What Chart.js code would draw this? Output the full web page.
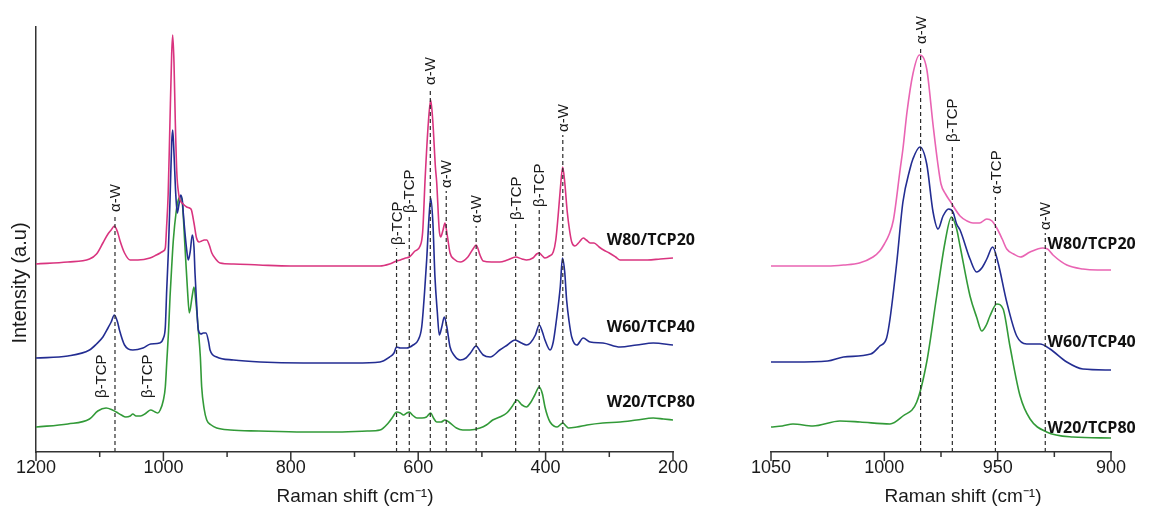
<!DOCTYPE html>
<html>
<head>
<meta charset="utf-8">
<title>Raman spectra W/TCP</title>
<script src="https://cdn.jsdelivr.net/npm/chart.js@4.4.1/dist/chart.umd.min.js"></script>
<style>
  html, body { margin: 0; padding: 0; background: #fff; }
  #wrap { position: relative; width: 1151px; height: 509px; }
  #wrap canvas { position: absolute; top: 0; }
  #chart-wide { left: 0; }
  #chart-zoom { left: 740px; }
</style>
</head>
<body>
<div id="wrap">
  <canvas id="chart-wide" width="730" height="509"></canvas>
  <canvas id="chart-zoom" width="411" height="509"></canvas>
</div>
<script>
// ---- full range spectra (1200 - 200 cm-1) ----
const wideShiftW80 = [1200,1150,1116,1105,1095,1087,1082,1077,1072,1068,1061,1052,1040,1021,1011,1005,1000,997,995,992.5,990,987,985.4,983.4,981.3,979,976,974,969,963.4,959,956,952,948,944,940,936,932,928,924,918,911,890,850,800,750,700,660,645,634,628,620,614,605,597,593,589,584,580.4,577,573,571,567,564.7,561,558,554,550,544,534,522,514,509,503,498,485,472,460,447,437,430,420,414,410,405,401,394,388,384,380.5,377,373.2,370,366,362,359,354,347,341,336,330,324,316,309,300,290,283,260,240,220,200];
const wideW80 = [188,190,193,198,209,218,222,226,220,211,199,192,192,194,197,199,201,204,225,258,322,398,417,390,330,280,258,252,248,245,244,242,229,214,210,211,212,212,207,199,193,189,188,187,186,186,186,186,188,191,192,194,195,201,206,220,275,330,352,330,285,270,222,215,222,229,215,199,193,190,195,203,207,197,191,190,190,192,195,193,192,194,198,199,196,194,196,200,212,235,262,285,270,240,220,210,206,210,214,212,209,209,205,202,199,195,192,192,192,193,194];

const wideShiftW60 = [1200,1150,1116,1105,1095,1087,1082,1077,1072,1069,1061,1048,1032,1020,1006,1000,997,994.8,992.3,989.6,987,985.4,983.4,980.7,978.2,975.5,972.8,970,968.8,963.4,960.9,958,954.6,952,950.4,948,945.2,941,937.4,933.1,929,926.8,916.3,890,848,780,700,660,645,638,634,628,618,608,600,594.5,590,586.7,583,580.4,577,573.7,570,566.9,563,559,555,550,544,534,525,518,509,503,498,487,472,460,448,438,430,424,416,410,405,401,393,388,383,377,373.5,370,367,363,359,351,341,330,310,283,257,231,200];
const wideW60 = [94,96,102,108,115,124,130,137,130,122,107,102,104,108,109,114,125,162,199,252,309,322,299,259,239,248,257,250,239,202,192,200,217,205,179,150,122,118,119,119,110,102,95,92,90,89,89,90,95,99,105,104,104,107,112,125,160,192,235,254,230,175,140,117,125,135,125,105,97,92,94,99,106,101,97,95,102,107,112,109,107,109,117,127,120,112,102,110,132,165,194,180,152,130,115,107,114,110,109,105,107,109,107];

const wideShiftW20 = [1200,1150,1116,1103,1090,1080,1074,1066,1059,1052,1048,1043,1036,1027,1020,1013,1009,1005,1000,997,994.8,992,989.6,987,984.4,980,976.6,972.8,970,966.1,962,959.3,955,952,949,945.2,942,939.9,936,932,925,916.3,895,850,780,734,680,660,647,640,634,628,623,618,614,609,602,594,587,580.4,576,571,564,558,550,540,530,519,503,493,483,472,461,452,445,437,430,424,417,410,405,401,397,393,387,382,373,368,364,351,335,310,283,257,231,215,200];
const wideW20 = [25,28,33,41,44,42,40,37,35,36,38,36,36,39,42,40,39,42,52,65,89,120,155,185,212,240,252,256,247,205,160,139,155,165,150,122,95,65,43,32,27,24,22,21,20,20,21,22,29,35,40,39,37,39,40,37,34,34,35,39,34,30,30,32,29,24,22,22,24,27,32,35,39,46,52,47,45,49,57,65,58,45,36,30,26,25,29,26,24,25,27,29,30,32,34,33,32];

// ---- close-up of the main band (1050 - 900 cm-1) ----
const zoomShiftW80 = [1050,1040,1025,1018,1011,1005,1002,1000,998,996,993,991.8,990,987.4,984.5,981.3,978.5,976.5,975,973,971,966.6,963.5,960.9,958,954.8,952.5,950.4,948,946,943,940,935.7,930.2,928,925.6,919.5,912.4,906,900];
const zoomW80 = [186,186,186,187,189,195,201,208,217,232,283,303,340,378,397,383,327,290,268,258,251,236,231,229,229,233,231,224,213,203,198,195,200,204,203,197,187,183,182,182];

const zoomShiftW60 = [1050,1040,1025,1018,1006,1002,999,997.5,994.5,991.8,988.7,987.4,984.3,981.3,978.5,976.3,974.1,971.7,969.7,968.1,966.6,962.2,959.3,957,954.8,952.2,949.9,946,941.6,937.2,931.3,926.9,919.5,912.4,900];
const zoomW60 = [90,90,91,95,98,106,114,133,190,250,283,293,305,288,240,223,236,243,240,228,222,193,180,184,193,205,190,150,116,108,108,103,90,83,82];

const zoomShiftW20 = [1050,1045,1040.3,1031.5,1019.6,1010.7,997.5,991.8,985.7,981.3,976.9,973.2,970.4,968.1,966.6,962.2,959.3,957,955,953.4,950.4,947.6,944.6,940.1,935.7,928.4,916.8,900];
const zoomW20 = [25,26,28,26,31,30,28,36,50,90,156,210,235,223,206,156,135,121,127,136,148,143,106,56,33,20,15,14];

// band assignments
const widePeakShift = [1076, 634, 614, 581, 556, 509, 447, 410, 373];
const widePeakName = ['α-W', 'β-TCP', 'β-TCP', 'α-W', 'α-W', 'α-W', 'β-TCP', 'β-TCP', 'α-W'];
const wideFreeShift = [1096, 1024];
const wideFreeName = ['β-TCP', 'β-TCP'];
const zoomPeakShift = [984, 970, 951, 929];
const zoomPeakName = ['α-W', 'β-TCP', 'α-TCP', 'α-W'];

const sampleNames = ['W80/TCP20', 'W60/TCP40', 'W20/TCP80'];

const TEXT_FONT = "'Liberation Sans', Arial, sans-serif";
const AXIS_COLOR = '#333';

const toPoints = (shift, counts) => shift.map((s, i) => ({ x: s, y: counts[i] }));

function spectrum(shift, counts, color) {
  return {
    data: toPoints(shift, counts),
    borderColor: color,
    borderWidth: 1.6,
    pointRadius: 0,
    cubicInterpolationMode: 'monotone',
    fill: false
  };
}

// tick marks, dashed band lines, rotated band labels, sample names
const ramanMarks = {
  id: 'ramanMarks',
  afterDatasetsDraw(chart, args, opts) {
    const { ctx, chartArea } = chart;
    const xs = chart.scales.x;
    const ys = chart.scales.y;
    ctx.save();

    // major + minor ticks below the axis
    ctx.strokeStyle = AXIS_COLOR;
    ctx.lineWidth = 1.5;
    const vals = xs.ticks.map(t => t.value);
    vals.forEach((v, i) => {
      const px = xs.getPixelForValue(v);
      ctx.beginPath();
      ctx.moveTo(px, chartArea.bottom);
      ctx.lineTo(px, chartArea.bottom + 9);
      ctx.stroke();
      if (i < vals.length - 1) {
        const pm = xs.getPixelForValue((v + vals[i + 1]) / 2);
        ctx.beginPath();
        ctx.moveTo(pm, chartArea.bottom);
        ctx.lineTo(pm, chartArea.bottom + 5);
        ctx.stroke();
      }
    });

    ctx.font = '15px ' + TEXT_FONT;
    ctx.fillStyle = '#1a1a1a';
    ctx.textAlign = 'left';
    ctx.textBaseline = 'middle';

    const vertText = (txt, px, py) => {
      ctx.save();
      ctx.translate(px, py);
      ctx.rotate(-Math.PI / 2);
      ctx.fillText(txt, 0, 0);
      ctx.restore();
    };

    opts.peaks.forEach((s, i) => {
      const px = xs.getPixelForValue(s);
      const top = ys.getPixelForValue(opts.peakTop[i]);
      ctx.save();
      ctx.strokeStyle = '#2b2b2b';
      ctx.lineWidth = 1.2;
      ctx.setLineDash([4, 3]);
      ctx.beginPath();
      ctx.moveTo(px, chartArea.bottom);
      ctx.lineTo(px, top);
      ctx.stroke();
      ctx.restore();
      vertText(opts.names[i], px + 1, top - 3);
    });

    (opts.free || []).forEach((s, i) => {
      vertText(opts.freeNames[i], xs.getPixelForValue(s), ys.getPixelForValue(opts.freeTop));
    });

    // sample names next to each trace
    ctx.font = "bold 16px 'Open Sans', 'Liberation Sans', sans-serif";
    ctx.fillStyle = '#111';
    sampleNames.forEach((name, i) => {
      ctx.fillText(name, xs.getPixelForValue(opts.nameShift), ys.getPixelForValue(opts.nameLevel[i]));
    });

    // axis titles
    ctx.font = '19px ' + TEXT_FONT;
    ctx.fillStyle = '#1a1a1a';
    ctx.textAlign = 'center';
    if (opts.yTitle) {
      ctx.save();
      ctx.font = '20px ' + TEXT_FONT;
      ctx.translate(opts.yTitle.x, opts.yTitle.y);
      ctx.rotate(-Math.PI / 2);
      ctx.fillText(opts.yTitle.text, 0, 0);
      ctx.restore();
    }
    ctx.fillText(opts.xTitle.text, opts.xTitle.x, opts.xTitle.y);
    ctx.restore();
  }
};

function xAxis(min, max, step) {
  return {
    type: 'linear',
    reverse: true,
    min: min,
    max: max,
    ticks: {
      stepSize: step,
      padding: 5,
      color: '#1a1a1a',
      font: { family: TEXT_FONT, size: 18 },
      callback: v => String(v)
    },
    grid: { display: false, drawTicks: false },
    border: { display: true, color: AXIS_COLOR, width: 1.5 },
    afterFit: s => { s.height = 57; }
  };
}

new Chart(document.getElementById('chart-wide'), {
  type: 'line',
  data: {
    datasets: [
      spectrum(wideShiftW80, wideW80, '#d9347f'),
      spectrum(wideShiftW60, wideW60, '#232d92'),
      spectrum(wideShiftW20, wideW20, '#329a38')
    ]
  },
  options: {
    responsive: false,
    animation: false,
    layout: { padding: { top: 27, right: 57, left: 0, bottom: 0 } },
    plugins: {
      legend: { display: false },
      tooltip: { enabled: false },
      ramanMarks: {
        peaks: widePeakShift,
        names: widePeakName,
        peakTop: [237, 204, 236, 364, 261, 226, 229, 242, 317],
        free: wideFreeShift,
        freeNames: wideFreeName,
        freeTop: 54,
        nameShift: 304,
        nameLevel: [212, 125, 50],
        yTitle: { text: 'Intensity (a.u)', x: 20, y: 283 },
        xTitle: { text: 'Raman shift (cm⁻¹)', x: 355, y: 497 }
      }
    },
    scales: {
      x: xAxis(200, 1200, 200),
      y: {
        min: 0,
        max: 425,
        ticks: { display: false },
        grid: { display: false, drawTicks: false },
        border: { display: true, color: AXIS_COLOR, width: 1.5 },
        afterFit: s => { s.width = 36; }
      }
    }
  },
  plugins: [ramanMarks]
});

new Chart(document.getElementById('chart-zoom'), {
  type: 'line',
  data: {
    datasets: [
      spectrum(zoomShiftW80, zoomW80, '#e964b3'),
      spectrum(zoomShiftW60, zoomW60, '#232d92'),
      spectrum(zoomShiftW20, zoomW20, '#329a38')
    ]
  },
  options: {
    responsive: false,
    animation: false,
    layout: { padding: { top: 27, right: 40, left: 31, bottom: 0 } },
    plugins: {
      legend: { display: false },
      tooltip: { enabled: false },
      ramanMarks: {
        peaks: zoomPeakShift,
        names: zoomPeakName,
        peakTop: [405, 307, 255, 219],
        nameShift: 928,
        nameLevel: [208, 110, 24],
        xTitle: { text: 'Raman shift (cm⁻¹)', x: 223, y: 497 }
      }
    },
    scales: {
      x: xAxis(900, 1050, 50),
      y: { display: false, min: 0, max: 425 }
    }
  },
  plugins: [ramanMarks]
});
</script>
</body>
</html>
